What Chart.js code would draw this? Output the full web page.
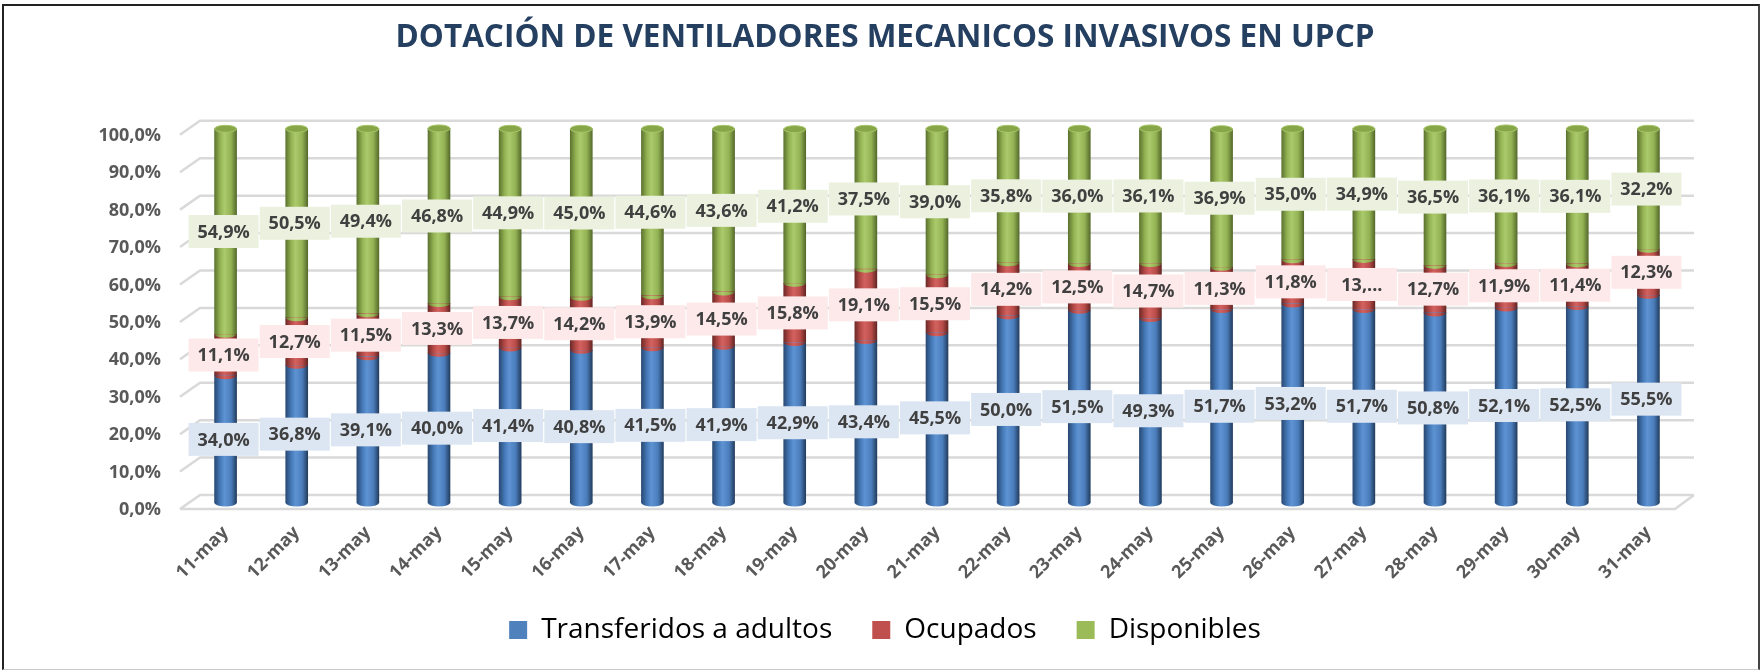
<!DOCTYPE html>
<html lang="es">
<head>
<meta charset="utf-8">
<title>Dotación de ventiladores mecánicos invasivos en UPCP</title>
<script src="https://cdn.jsdelivr.net/npm/chart.js@4.4.1/dist/chart.umd.min.js"></script>
<style>
    html, body { margin: 0; padding: 0; background: #ffffff; }
    #wrap { position: relative; width: 1762px; height: 670px; }
    #frame {
        position: absolute; left: 2px; top: 4px; width: 1754px; height: 663px;
        border-top: 2px solid #222; border-left: 2px solid #222; border-right: 2px solid #444;
        border-bottom: 1px solid #c8c8c8; pointer-events: none;
    }
</style>
</head>
<body>
<div id="wrap">
    <canvas id="ventChart" width="1762" height="670"></canvas>
    <div id="frame"></div>
</div>
<script>
const fechas = ['11-may', '12-may', '13-may', '14-may', '15-may', '16-may', '17-may', '18-may', '19-may', '20-may', '21-may',
    '22-may', '23-may', '24-may', '25-may', '26-may', '27-may', '28-may', '29-may', '30-may', '31-may'];

const transferidos = [34.0, 36.8, 39.1, 40.0, 41.4, 40.8, 41.5, 41.9, 42.9, 43.4, 45.5, 50.0, 51.5, 49.3, 51.7, 53.2, 51.7, 50.8, 52.1, 52.5, 55.5];
const ocupados = [11.1, 12.7, 11.5, 13.3, 13.7, 14.2, 13.9, 14.5, 15.8, 19.1, 15.5, 14.2, 12.5, 14.7, 11.3, 11.8, 13.4, 12.7, 11.9, 11.4, 12.3];
const disponibles = [54.9, 50.5, 49.4, 46.8, 44.9, 45.0, 44.6, 43.6, 41.2, 37.5, 39.0, 35.8, 36.0, 36.1, 36.9, 35.0, 34.9, 36.5, 36.1, 36.1, 32.2];

// Excel cut this one label short
const etiquetasCortadas = { 16: '13,...' };

const yTicks = [0, 10, 20, 30, 40, 50, 60, 70, 80, 90, 100];

const colores = ['#4f81bd', '#c0504d', '#9bbb59'];
const coloresCaja = ['#dce6f2', '#fde9e9', '#ebf1de'];
// dark edge -> highlight -> dark edge, gives the cylinder look
const rampas = [
    ['#2a4a74', '#4478b6', '#5e93d3', '#4b7dbb', '#233e60'],
    ['#6e2a28', '#b54a47', '#d3625f', '#b84c49', '#652624'],
    ['#5d7430', '#93b252', '#abca6c', '#93b253', '#566b2c']
];
const BAR_W = 22;

const fmt = v => v.toFixed(1).replace('.', ',') + '%';

function cylGradient(ctx, cx, ramp) {
    const g = ctx.createLinearGradient(cx - BAR_W / 2, 0, cx + BAR_W / 2, 0);
    g.addColorStop(0, ramp[0]);
    g.addColorStop(0.25, ramp[1]);
    g.addColorStop(0.45, ramp[2]);
    g.addColorStop(0.75, ramp[3]);
    g.addColorStop(1, ramp[4]);
    return g;
}

function cylinderFill(k) {
    return function (context) {
        const chart = context.chart;
        if (!chart.chartArea || context.dataIndex === undefined) return colores[k];
        const cx = chart.scales.x.getPixelForValue(context.dataIndex);
        return cylGradient(chart.ctx, cx, rampas[k]);
    };
}

// 3D-looking grid: back wall lines plus a short diagonal at the left
const gridPlugin = {
    id: 'grid3d',
    afterLayout(chart) {
        // let the rotated date labels spill below the x axis box without being clipped
        chart.scales.x.bottom = chart.height;
    },
    beforeDatasetsDraw(chart) {
        const { ctx, chartArea, scales } = chart;
        const y = scales.y;
        ctx.save();
        ctx.strokeStyle = '#d9d9d9';
        ctx.lineWidth = 2.5;
        yTicks.forEach(v => {
            const py = y.getPixelForValue(v);
            ctx.beginPath();
            ctx.moveTo(chartArea.left - 10, py + 6);
            ctx.lineTo(chartArea.left + 10, py - 8);
            ctx.lineTo(chartArea.right + 10, py - 8);
            ctx.stroke();
        });
        const p0 = y.getPixelForValue(0);
        ctx.beginPath();
        ctx.moveTo(chartArea.left - 10, p0 + 6);
        ctx.lineTo(chartArea.right - 9, p0 + 6);
        ctx.lineTo(chartArea.right + 10, p0 - 8);
        ctx.stroke();
        ctx.restore();
    }
};

// ellipse caps and seams on the cylinders, then the boxed data labels
const cylinderPlugin = {
    id: 'cylinders',
    afterDatasetsDraw(chart) {
        const ctx = chart.ctx;
        const metas = [0, 1, 2].map(i => chart.getDatasetMeta(i));
        const ry = 3.5;
        ctx.save();
        metas[0].data.forEach((bar0, i) => {
            const cx = bar0.x;
            const rx = BAR_W / 2;
            // bottom rim
            ctx.beginPath();
            ctx.ellipse(cx, bar0.base, rx, ry, 0, 0, Math.PI);
            ctx.fillStyle = cylGradient(ctx, cx, rampas[0]);
            ctx.fill();
            // seams between segments
            [1, 2].forEach(k => {
                const b = metas[k].data[i];
                ctx.beginPath();
                ctx.ellipse(cx, b.base, rx, ry, 0, 0, Math.PI);
                ctx.fillStyle = cylGradient(ctx, cx, rampas[k]);
                ctx.fill();
            });
            // top face
            const top = metas[2].data[i];
            ctx.beginPath();
            ctx.ellipse(cx, top.y, rx, ry, 0, 0, Math.PI * 2);
            ctx.fillStyle = '#86a648';
            ctx.fill();
            ctx.strokeStyle = '#a6c66a';
            ctx.lineWidth = 1;
            ctx.stroke();
        });

        ctx.font = 'bold 18px "Open Sans"';
        ctx.textAlign = 'center';
        ctx.textBaseline = 'middle';
        metas.forEach((meta, k) => {
            const values = chart.data.datasets[k].data;
            meta.data.forEach((bar, i) => {
                const cy = (bar.y + bar.base) / 2;
                const bx = bar.x - 2;
                ctx.fillStyle = coloresCaja[k];
                ctx.fillRect(bx - 35, cy - 16.5, 70, 33);
                ctx.fillStyle = '#404040';
                let txt = fmt(values[i]);
                if (k === 1 && etiquetasCortadas[i]) txt = etiquetasCortadas[i];
                ctx.fillText(txt, bx, cy + 1);
            });
        });
        ctx.restore();
    }
};

const ctx = document.getElementById('ventChart').getContext('2d');
new Chart(ctx, {
    type: 'bar',
    data: {
        labels: fechas,
        datasets: [
            { label: 'Transferidos a adultos', data: transferidos, backgroundColor: cylinderFill(0) },
            { label: 'Ocupados', data: ocupados, backgroundColor: cylinderFill(1) },
            { label: 'Disponibles', data: disponibles, backgroundColor: cylinderFill(2) }
        ]
    },
    options: {
        responsive: false,
        animation: false,
        clip: false,
        barThickness: BAR_W,
        layout: { padding: { left: 86, right: 78, top: 0, bottom: 16 } },
        scales: {
            x: {
                stacked: true,
                offset: true,
                grid: { display: false, drawTicks: false },
                border: { display: false },
                ticks: {
                    autoSkip: false,
                    maxRotation: 45,
                    minRotation: 45,
                    padding: 19,
                    color: '#595959',
                    font: { family: 'Open Sans', weight: 'bold', size: 18 }
                },
                afterFit: scale => { scale.height = 73; }
            },
            y: {
                stacked: true,
                min: 0,
                max: 100,
                grid: { display: false, drawTicks: false },
                border: { display: false },
                ticks: {
                    stepSize: 10,
                    padding: 29,
                    labelOffset: 7,
                    color: '#595959',
                    font: { family: 'Open Sans', weight: 'bold', size: 18 },
                    callback: value => fmt(value)
                },
                afterFit: scale => { scale.width = 104; }
            }
        },
        plugins: {
            title: {
                display: true,
                text: 'DOTACIÓN DE VENTILADORES MECANICOS INVASIVOS EN UPCP',
                color: '#243F60',
                font: { family: 'Open Sans', weight: 'bold', size: 31.5, lineHeight: 1.2 },
                padding: { top: 19, bottom: 72 }
            },
            legend: {
                position: 'bottom',
                labels: {
                    boxWidth: 18,
                    boxHeight: 18,
                    padding: 40,
                    color: '#000000',
                    font: { family: 'Open Sans', size: 28 },
                    generateLabels: chart => chart.data.datasets.map((ds, i) => ({
                        text: ds.label,
                        fillStyle: colores[i],
                        strokeStyle: colores[i],
                        lineWidth: 0,
                        fontColor: '#000000',
                        datasetIndex: i,
                        hidden: false
                    }))
                }
            },
            tooltip: { enabled: false }
        }
    },
    plugins: [gridPlugin, cylinderPlugin]
});
</script>
</body>
</html>
